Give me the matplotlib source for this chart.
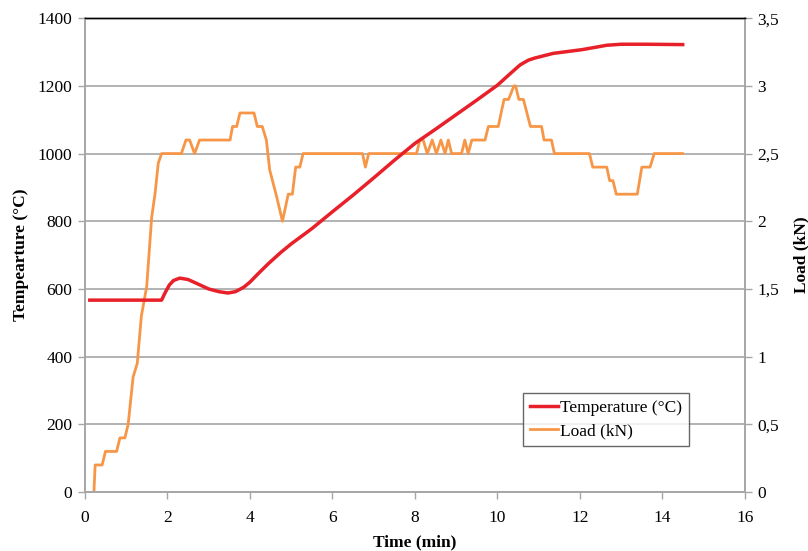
import matplotlib.pyplot as plt
from matplotlib.ticker import FuncFormatter

# temperature curve (min, °C)
t_temp = [0.12, 1.0, 1.86, 1.95, 2.05, 2.15, 2.3, 2.5, 2.7, 3.0, 3.25, 3.47, 3.65, 3.85,
          4.0, 4.2, 4.45, 4.75, 5.0, 5.5, 6.0, 6.5, 7.0, 7.5, 8.0, 8.5, 9.0, 9.5, 10.0,
          10.3, 10.55, 10.75, 10.9, 11.35, 12.05, 12.65, 13.0, 13.6, 14.49]
temp = [567, 567, 567, 590, 612, 625, 632, 628, 617, 600, 592, 588, 592, 605,
        620, 645, 675, 708, 733, 778, 828, 877, 928, 980, 1030, 1072, 1115, 1158, 1202,
        1235, 1262, 1276, 1282, 1296, 1307, 1320, 1323, 1323, 1322]

# load curve (min, kN)
t_load = [0.22, 0.25, 0.42, 0.50, 0.77, 0.85, 0.97, 1.05, 1.17, 1.27, 1.37, 1.50, 1.62,
          1.70, 1.78, 1.86, 2.34, 2.45, 2.54, 2.66, 2.78, 3.52, 3.58, 3.68, 3.76, 4.10,
          4.18, 4.30, 4.40, 4.48, 4.65, 4.79, 4.93, 5.03, 5.11, 5.21, 5.29, 6.73, 6.80,
          6.88, 8.04, 8.12, 8.20, 8.30, 8.42, 8.52, 8.63, 8.73, 8.81, 8.89, 9.13, 9.21,
          9.29, 9.38, 9.70, 9.78, 10.02, 10.16, 10.27, 10.40, 10.44, 10.52, 10.63, 10.80,
          11.07, 11.13, 11.31, 11.38, 12.23, 12.31, 12.65, 12.72, 12.80, 12.88, 13.39,
          13.50, 13.70, 13.80, 14.49]
load = [0.0, 0.2, 0.2, 0.3, 0.3, 0.4, 0.4, 0.5, 0.85, 0.95, 1.3, 1.52, 2.03,
        2.2, 2.43, 2.5, 2.5, 2.6, 2.6, 2.5, 2.6, 2.6, 2.7, 2.7, 2.8, 2.8,
        2.7, 2.7, 2.6, 2.38, 2.18, 2.0, 2.2, 2.2, 2.4, 2.4, 2.5, 2.5, 2.4,
        2.5, 2.5, 2.6, 2.6, 2.5, 2.6, 2.5, 2.6, 2.5, 2.6, 2.5, 2.5, 2.6,
        2.5, 2.6, 2.6, 2.7, 2.7, 2.9, 2.9, 3.0, 3.0, 2.9, 2.9, 2.7,
        2.7, 2.6, 2.6, 2.5, 2.5, 2.4, 2.4, 2.3, 2.3, 2.2, 2.2,
        2.4, 2.4, 2.5, 2.5]

plt.rcParams['font.family'] = ['Liberation Serif', 'DejaVu Serif']
plt.rcParams['font.size'] = 12.5

fig = plt.figure(figsize=(8.08, 5.51), dpi=100)
ax = fig.add_axes([0.105, 0.107, 0.817, 0.860])
ax2 = ax.twinx()

# grid lives on the back axes so both curves sit over it
ax.set_zorder(2)
ax.patch.set_visible(False)
ax2.set_zorder(1)

grid_c = '#a6a6a6'
ax2.grid(True, color=grid_c, linewidth=1.2)
ax2.set_axisbelow(True)

l2, = ax2.plot(t_load, load, color='#f79646', linewidth=2.0, label='Load (kN)')
l1, = ax.plot(t_temp, temp, color='#e8202a', linewidth=2.5, label='Temperature (°C)')

ax.set_xlim(0, 16)
ax.set_ylim(0, 1400)
ax.set_xticks(range(0, 17, 2))
ax.set_yticks(range(0, 1401, 200))
ax2.set_ylim(0, 3.5)
ax2.set_yticks([i * 0.5 for i in range(8)])
ax2.yaxis.set_major_formatter(FuncFormatter(lambda v, p: ('%g' % v).replace('.', ',')))

for a in (ax, ax2):
    for s in a.spines.values():
        s.set_color(grid_c)
        s.set_linewidth(1.2)
    a.spines['top'].set_color('black')
    a.spines['top'].set_linewidth(1.0)
    a.tick_params(direction='out', length=5, width=1.0, color=grid_c, labelsize=12.5, pad=4)
ax.tick_params(axis='x', pad=8)

ax.set_xlabel('Time (min)', fontweight='bold', fontsize=12.5, labelpad=6)
ax.set_ylabel('Tempearture (°C)', fontweight='bold', fontsize=12.5, labelpad=6)
ax2.set_ylabel('Load (kN)', fontweight='bold', fontsize=12.5, rotation=90, labelpad=10)

leg = ax.legend(handles=[l1, l2], loc='upper left', bbox_to_anchor=(0.664, 0.209),
                frameon=True, fancybox=False, handlelength=1.6, handletextpad=0.15,
                borderpad=0.4, labelspacing=0.4, fontsize=12.5, borderaxespad=0)
leg.get_frame().set_edgecolor('#404040')
leg.get_frame().set_linewidth(1.0)

fig.savefig('out.png', dpi=100)
